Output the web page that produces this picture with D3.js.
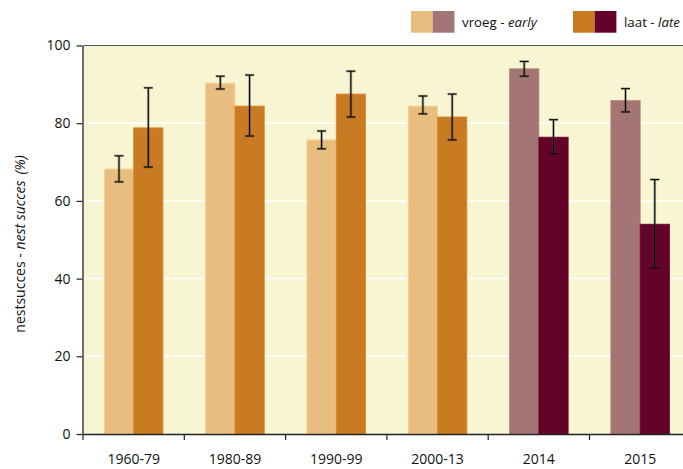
<!DOCTYPE html>
<html>
<head>
<meta charset="utf-8">
<script src="https://cdn.jsdelivr.net/npm/d3@7"></script>
<style>
  html, body { margin: 0; padding: 0; background: #fff; }
  svg { display: block; font-family: "Open Sans", "Noto Sans", sans-serif; }
</style>
</head>
<body>
<svg id="chart" width="683" height="469"></svg>
<script>
// Nest success per period, early and late clutches (mean with error range)
const periods = ["1960-79", "1980-89", "1990-99", "2000-13", "2014", "2015"];
const earlyValues = [68.2, 90.3, 75.7, 84.4, 94.0, 85.8];
const earlyLow    = [64.9, 88.8, 73.4, 82.4, 92.1, 82.9];
const earlyHigh   = [71.6, 92.1, 78.0, 87.0, 95.9, 88.9];
const lateValues  = [78.8, 84.4, 87.5, 81.6, 76.4, 54.0];
const lateLow     = [68.7, 76.7, 81.6, 75.7, 72.1, 42.7];
const lateHigh    = [89.1, 92.4, 93.4, 87.5, 80.9, 65.5];
const yTicks = [0, 20, 40, 60, 80, 100];
const recentPeriods = ["2014", "2015"];

const colors = {
  early: "#e8be80", late: "#c87b22",
  earlyRecent: "#a37574", lateRecent: "#63032a",
  bg: "#f8f5d3"
};

const FONT = "'Open Sans', 'Noto Sans', sans-serif";
const svg = d3.select("#chart");
const plotLeft = 83, plotTop = 45.5, plotBottom = 434, step = 101.3;

const x = d3.scaleBand().domain(periods)
  .range([plotLeft, plotLeft + step * periods.length]).padding(0);
const sub = d3.scaleBand().domain(["early", "late"])
  .range([0, x.bandwidth()]).paddingInner(0).paddingOuter(0.73);
const y = d3.scaleLinear().domain([0, 100]).range([plotBottom, plotTop]);

// plot background
svg.append("rect")
  .attr("x", plotLeft).attr("y", plotTop)
  .attr("width", 683 - plotLeft).attr("height", plotBottom - plotTop)
  .attr("fill", colors.bg);

// white gridlines
svg.append("g").selectAll("line")
  .data(yTicks.filter(t => t > 0 && t < 100))
  .join("line")
  .attr("x1", plotLeft).attr("x2", 683)
  .attr("y1", d => y(d)).attr("y2", d => y(d))
  .attr("stroke", "#ffffff").attr("stroke-width", 1.5);

// bar records
const rows = [];
periods.forEach((p, i) => {
  const recent = recentPeriods.includes(p);
  rows.push({ p, key: "early", v: earlyValues[i], lo: earlyLow[i], hi: earlyHigh[i],
    fill: recent ? colors.earlyRecent : colors.early });
  rows.push({ p, key: "late", v: lateValues[i], lo: lateLow[i], hi: lateHigh[i],
    fill: recent ? colors.lateRecent : colors.late });
});

svg.append("g").selectAll("rect")
  .data(rows)
  .join("rect")
  .attr("x", d => x(d.p) + sub(d.key))
  .attr("y", d => y(d.v))
  .attr("width", sub.bandwidth())
  .attr("height", d => y(0) - y(d.v))
  .attr("fill", d => d.fill)
  .attr("stroke", d => d3.color(d.fill).brighter(0.25))
  .attr("stroke-width", 0.8);

// error bars
const eb = svg.append("g").selectAll("g")
  .data(rows)
  .join("g")
  .attr("transform", d => `translate(${x(d.p) + sub(d.key) + sub.bandwidth() / 2},0)`);
eb.append("line")
  .attr("y1", d => y(d.lo)).attr("y2", d => y(d.hi))
  .attr("stroke", "rgba(60,60,50,0.45)").attr("stroke-width", 2.6);
eb.append("line")
  .attr("y1", d => y(d.lo)).attr("y2", d => y(d.hi))
  .attr("stroke", "#000").attr("stroke-width", 1);
["lo", "hi"].forEach(k => {
  eb.append("line")
    .attr("x1", -4.5).attr("x2", 4.5)
    .attr("y1", d => y(d[k])).attr("y2", d => y(d[k]))
    .attr("stroke", "rgba(60,60,50,0.45)").attr("stroke-width", 2.4);
  eb.append("line")
    .attr("x1", -4.5).attr("x2", 4.5)
    .attr("y1", d => y(d[k])).attr("y2", d => y(d[k]))
    .attr("stroke", "#000").attr("stroke-width", 1);
});

// top border
svg.append("line")
  .attr("x1", plotLeft).attr("x2", 683)
  .attr("y1", plotTop).attr("y2", plotTop)
  .attr("stroke", "#555").attr("stroke-width", 1.2);

// y axis
const yAxis = svg.append("g")
  .attr("transform", `translate(${plotLeft - 0.5},0)`)
  .call(d3.axisLeft(y).tickValues(yTicks).tickSize(6).tickPadding(6).tickSizeOuter(0));
yAxis.select(".domain").attr("stroke", "#222").attr("stroke-width", 1.3);
yAxis.selectAll(".tick line").attr("stroke", "#222").attr("stroke-width", 1.2);
yAxis.selectAll("text").attr("font-size", 14).attr("fill", "#111")
  .attr("font-family", FONT);

// x axis with ticks at band boundaries
const xAxis = svg.append("g")
  .attr("transform", `translate(0,${plotBottom})`)
  .call(d3.axisBottom(x).tickSize(0).tickPadding(20).tickSizeOuter(0));
xAxis.select(".domain").attr("stroke", "#222").attr("stroke-width", 1.3);
xAxis.selectAll("text").attr("font-size", 14).attr("fill", "#111")
  .attr("font-family", FONT);
xAxis.selectAll(".bound")
  .data(periods)
  .join("line")
  .attr("class", "bound")
  .attr("x1", d => x(d)).attr("x2", d => x(d))
  .attr("y1", 0).attr("y2", 6)
  .attr("stroke", "#222").attr("stroke-width", 1.2);

// y axis title
const yTitle = svg.append("text")
  .attr("transform", `translate(25,244) rotate(-90)`)
  .attr("text-anchor", "middle")
  .attr("font-family", FONT)
  .attr("font-size", 14).attr("fill", "#111");
yTitle.append("tspan").text("nestsucces - ");
yTitle.append("tspan").attr("font-style", "italic").text("nest succes");
yTitle.append("tspan").attr("dx", 6).attr("font-style", "italic").text("(%)");

// legend
const legendItems = [
  { fills: [colors.early, colors.earlyRecent], label: "vroeg - ", it: "early", x: 411 },
  { fills: [colors.late, colors.lateRecent], label: "laat - ", it: "late", x: 573 }
];
const lg = svg.append("g").selectAll("g").data(legendItems).join("g")
  .attr("transform", d => `translate(${d.x},11)`);
lg.selectAll("rect").data(d => d.fills).join("rect")
  .attr("x", (d, i) => i * 21.7).attr("y", 0)
  .attr("width", 21.7).attr("height", 21.7)
  .attr("fill", d => d);
const lt = lg.append("text").attr("x", 51).attr("y", 16)
  .attr("font-family", FONT)
  .attr("font-size", 13.3).attr("fill", "#111");
lt.append("tspan").text(d => d.label);
lt.append("tspan").attr("font-style", "italic").text(d => d.it);
</script>
</body>
</html>
